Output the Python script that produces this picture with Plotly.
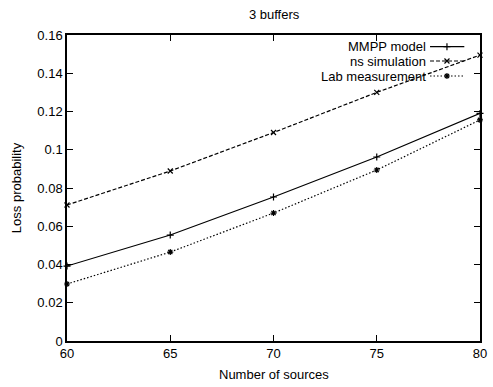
import plotly.graph_objects as go

sources = [60, 65, 70, 75, 80]
mmpp = [0.0392, 0.0554, 0.0753, 0.0962, 0.119]
ns_sim = [0.0711, 0.0889, 0.109, 0.130, 0.1495]
lab = [0.0298, 0.0465, 0.0669, 0.0894, 0.1156]
names = ["MMPP model", "ns simulation", "Lab measurement"]
y_ticks = [0, 0.02, 0.04, 0.06, 0.08, 0.1, 0.12, 0.14, 0.16]
y_tick_text = ["0", "0.02", "0.04", "0.06", "0.08", "0.1", "0.12", "0.14", "0.16"]
x_ticks = [60, 65, 70, 75, 80]

FONT = "Liberation Sans, Arial, sans-serif"
styles = [
    dict(dash="solid", symbol="cross-thin"),
    dict(dash="4px,2px", symbol="x-thin"),
    dict(dash="1.5px,2px", symbol="asterisk-open"),
]

fig = go.Figure()
for vals, st in zip([mmpp, ns_sim, lab], styles):
    fig.add_trace(go.Scatter(
        x=sources, y=vals, mode="lines+markers",
        line=dict(color="black", width=1.2, dash=st["dash"]),
        marker=dict(symbol=st["symbol"], size=5, color="black",
                    line=dict(color="black", width=1.2)),
        showlegend=False, cliponaxis=False,
    ))

# custom gnuplot-style legend (text right, sample to the right)
leg_y = [0.962, 0.915, 0.866]
for name, st, ly in zip(names, styles, leg_y):
    fig.add_trace(go.Scatter(
        x=[0.879, 0.92, 0.962], y=[ly, ly, ly], xaxis="x2", yaxis="y2",
        mode="lines", line=dict(color="black", width=1.2, dash=st["dash"]),
        showlegend=False, hoverinfo="skip",
    ))
    fig.add_trace(go.Scatter(
        x=[0.92], y=[ly], xaxis="x2", yaxis="y2", mode="markers",
        marker=dict(symbol=st["symbol"], size=5, color="black",
                    line=dict(color="black", width=1.2)),
        showlegend=False, hoverinfo="skip",
    ))
    fig.add_annotation(
        x=0.874, y=ly, xref="paper", yref="paper", text=name,
        showarrow=False, xanchor="right", yanchor="middle",
        font=dict(family=FONT, size=13, color="black"),
    )

# x-axis title as annotation (keeps plot area fixed)
fig.add_annotation(
    x=0.5, y=-0.111, xref="paper", yref="paper", text="Number of sources",
    showarrow=False, xanchor="center", yanchor="middle",
    font=dict(family=FONT, size=13, color="black"),
)

axis_common = dict(
    showline=True, linecolor="black", linewidth=1.5, mirror="ticks",
    ticks="inside", ticklen=6, tickwidth=1, tickcolor="black",
    showgrid=False, zeroline=False,
    tickfont=dict(family=FONT, size=13, color="black"),
)

fig.update_layout(
    width=493, height=387,
    margin=dict(l=67, r=11, t=35, b=46),
    paper_bgcolor="white", plot_bgcolor="white",
    title=dict(text="3 buffers", x=0.556, xanchor="center", y=0.962, yanchor="middle",
               font=dict(family=FONT, size=13, color="black")),
    xaxis=dict(range=[60, 80], tickvals=x_ticks, automargin=False, **axis_common),
    yaxis=dict(range=[0, 0.16], tickvals=y_ticks, ticktext=y_tick_text,
               title=dict(text="Loss probability", standoff=13,
                          font=dict(family=FONT, size=13, color="black")),
               **axis_common),
    xaxis2=dict(range=[0, 1], overlaying="x", visible=False, fixedrange=True),
    yaxis2=dict(range=[0, 1], overlaying="y", visible=False, fixedrange=True),
)

fig.write_html("out.html", config={"displayModeBar": False},
               post_script="document.body.style.margin='0';")
